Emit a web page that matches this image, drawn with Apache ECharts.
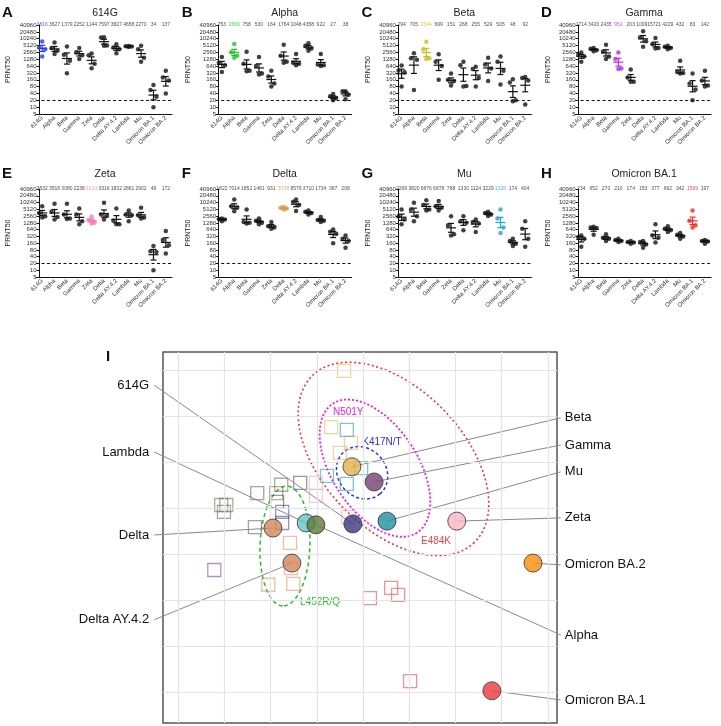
<!DOCTYPE html>
<html><head><meta charset="utf-8">
<script src="https://cdn.jsdelivr.net/npm/echarts@6/dist/echarts.min.js"></script>
<style>html,body{margin:0;padding:0;background:#fff}#c{width:721px;height:726px}</style>
</head><body><div id="c"></div>
<script>
// ---------- data: panels A-H ----------
const categories = ['614G','Alpha','Beta','Gamma','Zeta','Delta','Delta AY.4.2','Lambda','Mu','Omicron BA.1','Omicron BA.2'];
const panelLetters = ['A','B','C','D','E','F','G','H'];
const panelTitles = ['614G','Alpha','Beta','Gamma','Zeta','Delta','Mu','Omicron BA.1'];
const homologousIndex = [0,1,2,3,4,5,8,9];
const yTickLabels = [5,10,20,40,80,160,320,640,1280,2560,5120,10240,20480,40960];
const detectionLimit = 20;

const gmtA = [3816,3627,1379,2252,1144,7597,3827,4658,2270,34,137];
const gmtB = [753,2569,758,530,164,1764,1048,4358,922,27,38];
const gmtC = [294,705,2544,699,151,268,255,529,505,48,92];
const gmtD = [1714,3420,2435,951,203,10091,5721,4229,432,83,142];
const gmtE = [3532,3518,3080,2238,1613,3316,1832,2861,2902,49,172];
const gmtF = [1822,7014,1852,1481,931,5728,8579,3710,1734,387,208];
const gmtG = [2269,3820,6876,6878,768,1330,1124,3229,1326,174,404];
const gmtH = [234,652,270,210,174,153,377,662,342,1569,197];

const titersA = [[7700,4200,3500,1700],[7000,4000,3000,2200],[4600,2000,1100,310],[4000,2600,1900,1300],[2300,1900,800,520],[12000,11500,5200,5000],[5900,4200,3500,2350],[4900,4800,4600,4400],[5000,3500,1500,1000],[94,57,29,10],[400,200,150,40]];
const titersB = [[1600,900,700,350],[6000,2600,1800,1500],[2700,800,400,380],[1600,650,300,270],[400,220,110,80],[5500,1800,1000,900],[2200,900,800,700],[6500,5000,3800,3000],[2200,750,700,650],[38,30,25,20],[50,50,35,22]];
const titersC = [[670,410,345,80],[2350,1400,1200,57],[7500,3500,1400,1300],[2100,1000,650,160],[300,160,140,90],[1000,700,85,80],[600,480,190,80],[1500,750,500,140],[1700,1000,400,100],[170,120,20,18],[210,190,150,13]];
const titersD = [[2500,2000,1700,1000],[4000,3700,3200,2900],[5500,2800,1700,1300],[2500,1300,500,480],[450,200,130,130],[22000,12000,8000,4500],[11000,6000,4000,3800],[5000,4500,4000,3500],[1100,350,320,300],[300,110,60,20],[400,150,90,80]];
const titersE = [[7000,3500,2500,2200],[9000,4000,2300,1800],[9000,3000,2000,1900],[5500,3000,1500,1100],[2400,1700,1300,1200],[10000,3000,2600,1800],[5500,1600,1100,1100],[4500,3000,2800,1500],[6000,2800,2200,2000],[120,70,65,10],[550,220,130,55]];
const titersF = [[2000,1900,1800,1500],[14000,7000,6000,4200],[5000,1400,1300,1200],[2000,1600,1300,1100],[1400,900,800,700],[6500,6000,5500,5000],[14000,11000,8000,4300],[4500,4000,3500,3000],[2300,1700,1600,1400],[650,520,420,160],[350,250,200,100]];
const titersG = [[5000,2500,1800,1100],[10000,5000,2500,1500],[13000,8000,5000,4500],[12000,7000,6000,4500],[2500,1000,400,350],[2500,1500,1300,600],[1800,1400,1200,500],[4000,3500,3000,2600],[5000,2000,800,450],[250,200,150,120],[1500,700,250,110]];
const titersH = [[350,300,250,110],[850,800,750,380],[400,280,250,200],[250,220,200,180],[200,180,170,150],[200,180,140,100],[1100,350,280,170],[900,700,600,500],[450,380,320,250],[4500,1600,1000,800],[220,200,190,150]];

// ---------- data: panel I (antigenic map, map units) ----------
const antigenNames = ['614G','Lambda','Alpha','Beta','Gamma','Zeta','Delta','Delta AY.4.2','Mu','Omicron BA.1','Omicron BA.2'];
const antigenX = [3.78, 2.77, 2.98, 3.76, 4.24, 6.03, 2.05, 2.46, 4.52, 6.79, 7.68];
const antigenY = [3.34, 3.32, 3.36, 2.10, 2.43, 3.28, 3.43, 4.19, 3.28, 6.96, 4.19];
const seraGroup = ['Beta','Beta','Beta','Beta','Mu','Mu','Mu','Mu','Zeta','Zeta','Zeta','614G','614G','614G','614G','Alpha','Alpha','Alpha','Alpha','Gamma','Gamma','Gamma','Gamma','Delta','Delta','Delta','Delta','Omicron BA.1','Omicron BA.1','Omicron BA.1','Omicron BA.1'];
const seraX = [3.59,3.31,3.74,3.50, 3.65,3.22,3.65,3.96, 2.98,2.98,3.68, 2.64,2.14,2.25,2.25, 2.23,2.12,0.93,1.04, 1.71,0.99,1.66,0.78, 2.42,2.44,1.95,2.49, 4.15,4.61,4.76,5.02];
const seraY = [0.02,1.24,1.58,1.80, 1.30,2.30,2.47,2.13, 2.45,2.73,3.19, 2.45,2.86,3.08,3.32, 2.49,2.67,2.93,2.93, 2.67,3.08,3.41,4.34, 3.75,4.30,4.66,4.64, 4.95,4.73,4.88,6.75];
const mapGridX = [0,1,2,3,4,5,6,7,8];
const mapGridY = [0,1,2,3,4,5,6,7];
const mutationNames = ['E484K','N501Y','K417N/T','L452R/Q'];

// ---------- styles / layout ----------
const FONT = '"Liberation Sans", Arial, sans-serif';
const hlColors = ['#2A3CF2','#22C02A','#C9BE1C','#B22FDC','#F27DB6','#DC9648','#1EA8CC','#F02828'];
const antigenColors = {'614G':'#363A78','Lambda':'#66C2C4','Alpha':'#5E7A38','Beta':'#E3B24F','Gamma':'#76406F','Zeta':'#F8B8C4','Delta':'#D4875A','Delta AY.4.2':'#D4875A','Mu':'#1B90A3','Omicron BA.1':'#EC3A40','Omicron BA.2':'#F88C0A'};
const seraColors = {'Beta':'rgba(232,180,80,0.7)','Mu':'rgba(40,160,180,0.75)','Zeta':'rgba(245,170,185,0.75)','614G':'rgba(60,64,130,0.7)','Alpha':'rgba(95,122,56,0.7)','Gamma':'rgba(125,70,120,0.7)','Delta':'rgba(225,140,95,0.7)','Omicron BA.1':'rgba(236,58,64,0.7)'};
const leaderLayout = {'614G':['left',0.33],'Lambda':['left',1.78],'Delta':['left',3.58],'Delta AY.4.2':['left',5.42],
  'Beta':['right',1.04],'Gamma':['right',1.63],'Mu':['right',2.21],'Zeta':['right',3.21],'Omicron BA.2':['right',4.23],'Alpha':['right',5.75],'Omicron BA.1':['right',7.16]};
const ellipseLayout = [
  {cx:4.66, cy:1.93, a:2.52, b:1.52, ang:46, color:'#F0323C', dash:[2,2.5], w:1.6, lx:5.58, ly:3.71, tc:'#F0444A'},
  {cx:4.26, cy:2.13, a:1.67, b:0.93, ang:57, color:'#F018E8', dash:[2,2], w:1.8, lx:3.68, ly:0.91, tc:'#E81CE0'},
  {cx:3.98, cy:2.23, a:0.60, b:0.52, ang:50, color:'#2030F0', dash:[3,2.5], w:1.5, lx:4.41, ly:1.56, tc:'#2530E8'},
  {cx:2.31, cy:3.82, a:1.30, b:0.54, ang:92, color:'#22C422', dash:[4,3], w:1.5, lx:3.07, ly:5.03, tc:'#2EC42E'}
];

const panels = [
  {gmt:gmtA, titers:titersA},{gmt:gmtB, titers:titersB},{gmt:gmtC, titers:titersC},{gmt:gmtD, titers:titersD},
  {gmt:gmtE, titers:titersE},{gmt:gmtF, titers:titersF},{gmt:gmtG, titers:titersG},{gmt:gmtH, titers:titersH}
];
const lv = t => Math.log2(t / yTickLabels[0]);
function semLog(arr){
  const l = arr.map(lv); const m = l.reduce((a,b)=>a+b,0)/l.length;
  const v = l.reduce((a,b)=>a+(b-m)*(b-m),0)/(l.length-1);
  return Math.sqrt(v/l.length);
}
const jitter = [0,-3,3,0];

const grids=[], xAxes=[], yAxes=[], series=[], graphics=[];
panels.forEach((p,k)=>{
  const r = Math.floor(k/4), c = k%4;
  const left = 36 + 179.7*c;
  const top = r ? 189 : 25;
  const height = r ? 88 : 89;
  const hi = homologousIndex[k], hl = hlColors[k];
  grids.push({left:left, top:top, width:136, height:height});
  xAxes.push({type:'category', gridIndex:k, data:categories, boundaryGap:true,
    axisLine:{lineStyle:{color:'#111', width:1}},
    axisTick:{alignWithLabel:true, length:2.5, lineStyle:{color:'#111'}},
    axisLabel:{rotate:45, fontSize:6, color:'#333', margin:3, interval:0, fontFamily:FONT},
    splitLine:{show:false}});
  yAxes.push({type:'value', gridIndex:k, min:0, max:13, interval:1, offset:-3,
    axisLine:{show:true, lineStyle:{color:'#111', width:1}},
    axisTick:{show:true, length:2.5, lineStyle:{color:'#111'}},
    axisLabel:{fontSize:6, color:'#333', margin:2.5, fontFamily:FONT, formatter:v=>String(yTickLabels[Math.round(v)])},
    splitLine:{show:false},
    name:'PRNT50', nameLocation:'middle', nameGap:27, nameTextStyle:{fontSize:7, color:'#222', fontFamily:FONT}});
  const dots = [];
  p.titers.forEach((arr,i)=>arr.forEach((t,j)=>dots.push({value:[i, lv(t)], symbolOffset:[jitter[j],0], itemStyle:{color: i===hi ? hl : '#111'}})));
  series.push({type:'scatter', xAxisIndex:k, yAxisIndex:k, symbolSize:4.5, data:dots, z:3,
    markLine:{silent:true, symbol:'none', label:{show:false}, lineStyle:{type:[3,2.5], color:'#111', width:1.2},
      data:[{yAxis: lv(detectionLimit)}]}});
  series.push({type:'custom', xAxisIndex:k, yAxisIndex:k, z:4,
    data: p.gmt.map((g,i)=>{const m = lv(g), s = semLog(p.titers[i]); return [i, m, m-s, m+s];}),
    renderItem:(params, api)=>{
      const i = api.value(0);
      const m = api.coord([i, api.value(1)]), lo = api.coord([i, api.value(2)]), up = api.coord([i, api.value(3)]);
      const col = i===hi ? hl : '#111';
      const st = {stroke:col, lineWidth:1.2};
      return {type:'group', children:[
        {type:'line', shape:{x1:m[0]-5, y1:m[1], x2:m[0]+5, y2:m[1]}, style:st},
        {type:'line', shape:{x1:m[0], y1:lo[1], x2:m[0], y2:up[1]}, style:st},
        {type:'line', shape:{x1:m[0]-3, y1:lo[1], x2:m[0]+3, y2:lo[1]}, style:st},
        {type:'line', shape:{x1:m[0]-3, y1:up[1], x2:m[0]+3, y2:up[1]}, style:st}
      ]};
    }});
  series.push({type:'scatter', xAxisIndex:k, yAxisIndex:k, symbolSize:1, itemStyle:{color:'transparent'}, z:5,
    data: p.gmt.map((g,i)=>({value:[i,13], label:{color: i===hi ? hl : '#222'}})),
    label:{show:true, position:'inside', fontSize:5, fontFamily:FONT, formatter:(d)=>String(p.gmt[d.dataIndex])}});
  graphics.push({type:'text', x:left+69, y: r ? 174 : 13, style:{text:panelTitles[k], font:'10.5px '+FONT, fill:'#222', align:'center', verticalAlign:'middle'}});
  graphics.push({type:'text', x:2+179.7*c, y: r ? 174 : 13, style:{text:panelLetters[k], font:'bold 15px '+FONT, fill:'#111', align:'left', verticalAlign:'middle'}});
});

// ---------- panel I ----------
const gi = 8;
grids.push({left:163, top:352, width:394, height:371, show:true, borderColor:'#555', borderWidth:1.5, backgroundColor:'transparent'});
xAxes.push({type:'value', gridIndex:gi, min:-0.33, max:8.2, show:false});
yAxes.push({type:'value', gridIndex:gi, min:-0.39, max:7.66, inverse:true, show:false});
graphics.push({type:'text', x:106, y:357, style:{text:'I', font:'bold 15px '+FONT, fill:'#111', align:'left', verticalAlign:'middle'}});

// grid lines + ellipses
series.push({type:'custom', xAxisIndex:gi, yAxisIndex:gi, z:2, clip:false,
  data: ellipseLayout.map((e,i)=>[e.cx, e.cy]),
  renderItem:(params, api)=>{
    const e = ellipseLayout[params.dataIndex];
    const A = e.ang*Math.PI/180, pts=[];
    for(let s=0;s<=120;s++){
      const t = s/120*2*Math.PI;
      const dx = e.a*Math.cos(t), dy = e.b*Math.sin(t);
      pts.push(api.coord([e.cx + dx*Math.cos(A) - dy*Math.sin(A), e.cy + dx*Math.sin(A) + dy*Math.cos(A)]));
    }
    const tp = api.coord([e.lx, e.ly]);
    return {type:'group', children:[
      {type:'polyline', shape:{points:pts}, style:{fill:null, stroke:e.color, lineWidth:e.w, lineDash:e.dash}},
      {type:'text', x:tp[0], y:tp[1], style:{text:mutationNames[params.dataIndex], fill:e.tc, font:'10px '+FONT, align:'center', verticalAlign:'middle'}}
    ]};
  },
  markLine:{silent:true, symbol:'none', label:{show:false}, lineStyle:{type:'solid', color:'#e3e3e3', width:1.2},
    data: mapGridX.map(x=>({xAxis:x})).concat(mapGridY.map(y=>({yAxis:y})))}
});
// sera
series.push({type:'scatter', xAxisIndex:gi, yAxisIndex:gi, z:3, symbol:'rect', symbolSize:13,
  data: seraX.map((x,i)=>({value:[x, seraY[i]], itemStyle:{color:'rgba(255,255,255,0)', borderColor:seraColors[seraGroup[i]], borderWidth:1.3}}))});
// leader lines + labels
series.push({type:'custom', xAxisIndex:gi, yAxisIndex:gi, z:4, clip:false,
  data: antigenNames.map((n,i)=>[antigenX[i], antigenY[i]]),
  renderItem:(params, api)=>{
    const n = antigenNames[params.dataIndex];
    const L = leaderLayout[n];
    const a = api.coord([api.value(0), api.value(1)]);
    const e = api.coord([L[0]==='left' ? -0.52 : 8.28, L[1]]);
    const t = api.coord([L[0]==='left' ? -0.63 : 8.37, L[1]]);
    return {type:'group', children:[
      {type:'line', shape:{x1:a[0], y1:a[1], x2:e[0], y2:e[1]}, style:{stroke:'#8a8a8a', lineWidth:1}},
      {type:'text', x:t[0], y:t[1], style:{text:n, fill:'#111', font:'13px '+FONT, align: L[0]==='left' ? 'right' : 'left', verticalAlign:'middle'}}
    ]};
  }});
// antigens
series.push({type:'scatter', xAxisIndex:gi, yAxisIndex:gi, z:5, symbol:'circle', symbolSize:18,
  data: antigenNames.map((n,i)=>({value:[antigenX[i], antigenY[i]], itemStyle:{color:antigenColors[n], borderColor:'#333', borderWidth:1}}))});

const chart = echarts.init(document.getElementById('c'), null, {renderer:'canvas'});
chart.setOption({animation:false, backgroundColor:'#fff', grid:grids, xAxis:xAxes, yAxis:yAxes, series:series, graphic:graphics});
</script>
</body></html>
